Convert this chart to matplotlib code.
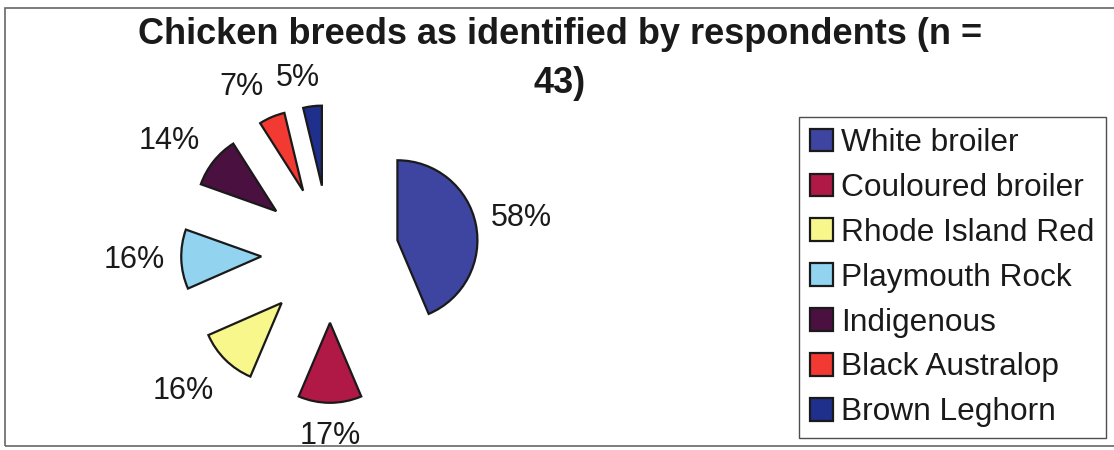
import matplotlib.pyplot as plt
import numpy as np
from matplotlib.patches import Rectangle

plt.rcParams['font.family'] = ['Liberation Sans', 'DejaVu Sans']

# Данные диаграммы
breeds = ['White broiler', 'Couloured broiler', 'Rhode Island Red', 'Playmouth Rock',
          'Indigenous', 'Black Australop', 'Brown Leghorn']
percent = [58, 17, 16, 16, 14, 7, 5]
colors = ['#3d45a0', '#b01846', '#f7f78c', '#92d4f0', '#4a1040', '#f23a32', '#1f2f8c']
title_lines = ['Chicken breeds as identified by respondents (n =', '43)']

# небольшие сдвиги подписей (как их раскладывает Excel)
nudges = [(0, 0), (0, 0), (-0.12, -0.1), (0, 0), (-0.1, 0), (-0.2, 0), (-0.13, -0.05)]

W, H = 1114, 450
fig = plt.figure(figsize=(W / 100, H / 100), dpi=100)
ax = fig.add_axes([0, 0, 1, 1])

explode = [0.86] * len(percent)
wedges, _ = ax.pie(percent, colors=colors, explode=explode, startangle=90,
                   counterclock=False, radius=1,
                   wedgeprops=dict(edgecolor='#1a1a1a', linewidth=1.6))

# масштаб: 1 единица = 80 пикселей, центр круга в (330, 254)
unit = 80.0
cx, cy = 330, 254
ax.set_xlim(-cx / unit, (W - cx) / unit)
ax.set_ylim(-(H - cy) / unit, cy / unit)
ax.set_aspect('equal')
ax.axis('off')

# подписи процентов снаружи каждого сектора
D = 2.07
for w, p, (dx, dy) in zip(wedges, percent, nudges):
    a = np.deg2rad((w.theta1 + w.theta2) / 2)
    s = f'{p}%'
    hw = 0.125 * len(s)
    x = (D + hw) * np.cos(a) + dx
    y = (D + 0.2) * np.sin(a) + dy
    ax.text(x, y, s, ha='center', va='center', fontsize=22, color='#1a1a1a')

# заголовок в две строки (как перенёс Excel)
for line, base in zip(title_lines, [44, 93]):
    fig.text(560 / W, 1 - base / H, line, ha='center', va='baseline', fontsize=26,
             fontweight='bold', color='#1a1a1a')

leg = fig.legend(wedges, breeds, loc='upper left', bbox_to_anchor=(799 / W, 1 - 117 / H),
                 borderaxespad=0, fontsize=22.8, frameon=True, fancybox=False,
                 edgecolor='#222222', handlelength=0.72, handleheight=0.72,
                 handletextpad=0.27, labelspacing=0.47, borderpad=0.35)
leg.get_frame().set_linewidth(1.0)
for t in leg.get_texts():
    t.set_color('#1a1a1a')

# рамка вокруг всей диаграммы
fig.add_artist(Rectangle((5 / W, 4 / H), 1.2, 1 - 12 / H, transform=fig.transFigure,
                         fill=False, edgecolor='#666666', linewidth=1.2, clip_on=False))

fig.savefig('out.png', dpi=100)
